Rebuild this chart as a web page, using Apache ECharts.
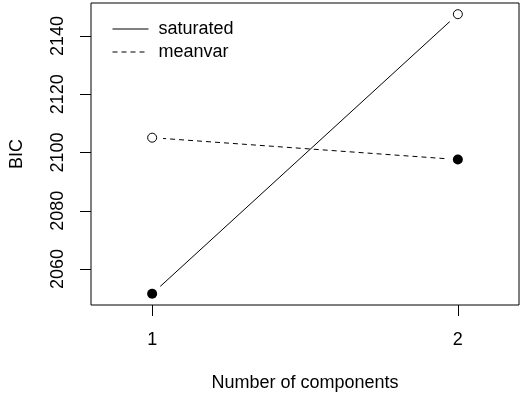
<!DOCTYPE html>
<html><head><meta charset="utf-8">
<script src="https://cdn.jsdelivr.net/npm/echarts@6/dist/echarts.min.js"></script>
<style>html,body{margin:0;padding:0;background:#fff}#c{width:523px;height:397px}</style>
</head><body><div id="c"></div>
<script>
const components = [1, 2];
const saturated = [2051.5, 2147.5];
const meanvar = [2105.1, 2097.6];
const saturatedFilled = [true, false];
const meanvarFilled = [false, true];
const xTicks = [1, 2];
const yTicks = [2060, 2080, 2100, 2120, 2140];
const seriesNames = ['saturated', 'meanvar'];
const xTitle = 'Number of components';
const yTitle = 'BIC';

const FONT = '"Liberation Sans", Arial, Helvetica, sans-serif';
const FS = 18;
const pairs = (ys) => components.map((x, i) => [x, ys[i]]);
const allVals = saturated.concat(meanvar);
const lo = Math.min(...allVals), hi = Math.max(...allVals);
const pad = (hi - lo) * 0.04;

function pointItems(ys, filled) {
  return components.map((x, i) => ({
    value: [x, ys[i]],
    symbolSize: filled[i] ? 10 : 9,
    itemStyle: filled[i]
      ? { color: '#000', borderWidth: 0, opacity: 1 }
      : { color: '#fff', borderColor: '#000', borderWidth: 1, opacity: 1 }
  }));
}

const chart = echarts.init(document.getElementById('c'), null, { renderer: 'canvas' });
chart.setOption({
  animation: false,
  backgroundColor: '#fff',
  textStyle: { fontFamily: FONT },
  grid: { left: 90, right: 4, top: 3, bottom: 91, show: true, borderColor: '#000', borderWidth: 1, z: 10, containLabel: false },
  legend: {
    data: seriesNames.map(n => ({ name: n })),
    orient: 'vertical', left: 107, top: 15,
    itemWidth: 36, itemHeight: 14, itemGap: 5,
    selectedMode: false,
    itemStyle: { opacity: 0 },
    lineStyle: { width: 1, color: '#000' },
    textStyle: { fontSize: FS, color: '#000', fontFamily: FONT, padding: [0, 0, 0, 5], lineHeight: 18 }
  },
  xAxis: {
    type: 'value', min: 0.8, max: 2.2, z: 10,
    name: xTitle, nameLocation: 'middle', nameGap: 69,
    nameTextStyle: { fontSize: FS, color: '#000', fontFamily: FONT },
    axisLine: { show: false },
    axisTick: { show: true, length: 11, customValues: xTicks, lineStyle: { color: '#000', width: 1 } },
    axisLabel: { customValues: xTicks, fontSize: FS, color: '#000', margin: 26, fontFamily: FONT,
      formatter: v => String(v) },
    splitLine: { show: false }
  },
  yAxis: {
    type: 'value', min: lo - pad, max: hi + pad, z: 10,
    name: yTitle, nameLocation: 'middle', nameGap: 65, nameRotate: 90,
    nameTextStyle: { fontSize: FS, color: '#000', fontFamily: FONT },
    axisLine: { show: false },
    axisTick: { show: true, length: 11, customValues: yTicks, lineStyle: { color: '#000', width: 1 } },
    axisLabel: { customValues: yTicks, fontSize: FS, color: '#000', margin: 24, rotate: 90, fontFamily: FONT,
      formatter: v => String(v) },
    splitLine: { show: false }
  },
  series: [
    { name: seriesNames[0], type: 'line', data: pairs(saturated), symbol: 'none', z: 1,
      lineStyle: { color: '#000', width: 1, type: 'solid' }, itemStyle: { color: '#000' } },
    { name: seriesNames[1], type: 'line', data: pairs(meanvar), symbol: 'none', z: 1,
      lineStyle: { color: '#000', width: 1, type: [5, 4] }, itemStyle: { color: '#000' } },
    { name: '_halo', type: 'scatter', silent: true, z: 2, symbolSize: 22,
      data: pairs(saturated).concat(pairs(meanvar)), itemStyle: { color: '#fff', opacity: 1 } },
    { name: '_pts_sat', type: 'scatter', silent: true, z: 3, data: pointItems(saturated, saturatedFilled) },
    { name: '_pts_mv', type: 'scatter', silent: true, z: 3, data: pointItems(meanvar, meanvarFilled) }
  ]
});
</script></body></html>
